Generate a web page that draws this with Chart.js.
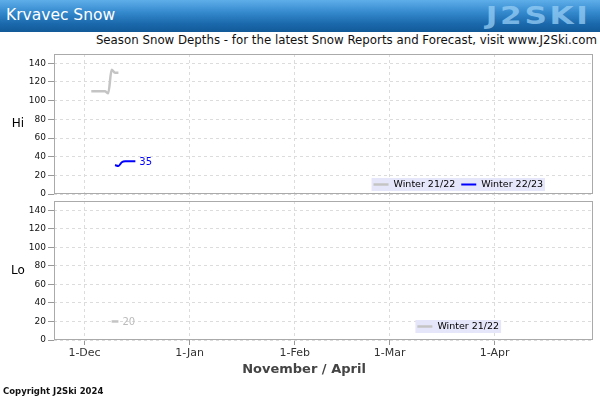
<!DOCTYPE html>
<html>
<head>
<meta charset="utf-8">
<script src="https://cdn.jsdelivr.net/npm/chart.js@4.4.0/dist/chart.umd.min.js"></script>
<style>
    body { margin: 0; width: 600px; height: 400px; background: #fff; position: relative; overflow: hidden; font-family: 'DejaVu Sans', sans-serif; }
    #header { position: absolute; left: 0; top: 0; width: 600px; height: 32px;
        background: linear-gradient(to bottom, #5eaee9 0%, #3388cc 40%, #1a68ab 75%, #125a98 100%); }
    #title { position: absolute; left: 6px; top: 6px; color: #fff; font-size: 15.5px; }
    #logo { position: absolute; right: 10px; top: 2px; color: rgba(150, 205, 245, 0.75); font-size: 24px; font-weight: bold; letter-spacing: 2px;
        transform: scaleX(1.3); transform-origin: right center; }
    #subtitle { position: absolute; right: 3px; top: 33px; font-size: 11.8px; color: #111; white-space: nowrap; }
    #hiWrap { position: absolute; left: 0; top: 50px; width: 600px; height: 150px; }
    #loWrap { position: absolute; left: 0; top: 197px; width: 600px; height: 203px; }
    #copy { position: absolute; left: 3px; top: 386px; font-size: 8.5px; font-weight: bold; color: #111; }
</style>
</head>
<body>
<div id="header"><span id="title">Krvavec Snow</span><span id="logo">J2SKI</span></div>
<div id="subtitle">Season Snow Depths - for the latest Snow Reports and Forecast, visit www.J2Ski.com</div>
<div id="hiWrap"><canvas id="hiChart"></canvas></div>
<div id="loWrap"><canvas id="loChart"></canvas></div>
<div id="copy">Copyright J2Ski 2024</div>
<script>
// days counted from 1-Dec
const monthTicks = [0, 31, 62, 90, 121];
const monthLabels = ['1-Dec', '1-Jan', '1-Feb', '1-Mar', '1-Apr'];
const depthTicks = [0, 20, 40, 60, 80, 100, 120, 140];
const seasons = ['Winter 21/22', 'Winter 22/23'];
const seasonColors = ['#c4c4c4', '#0000ff'];

const hiDays2122 = [2, 3, 4, 5, 6, 7, 8, 9, 10];
const hiDepth2122 = [110, 110, 110, 110, 110, 108, 133, 130, 130];
const hiDays2223 = [9, 10, 11, 12, 13, 14, 15];
const hiDepth2223 = [31, 30, 34, 35, 35, 35, 35];
const loDays2122 = [8, 9, 10];
const loDepth2122 = [20, 20, 20];

Chart.defaults.font.family = "'DejaVu Sans', sans-serif";
Chart.defaults.animation = false;

const toPoints = (days, depths) => days.map((d, i) => ({x: d, y: depths[i]}));

const noPadding = (scale) => {
    scale.paddingTop = 0;
    scale.paddingBottom = 0;
    scale.paddingLeft = 0;
    scale.paddingRight = 0;
};

const decorations = {
    id: 'decorations',
    afterDatasetsDraw(chart, args, opts) {
        const ctx = chart.ctx;
        const a = chart.chartArea;
        ctx.save();
        ctx.strokeStyle = '#aaa';
        ctx.lineWidth = 1;
        ctx.strokeRect(a.left + 0.5, a.top + 0.5, a.width - 1, a.height - 1);

        ctx.fillStyle = '#000';
        ctx.font = "12px 'DejaVu Sans'";
        ctx.textAlign = 'center';
        ctx.textBaseline = 'middle';
        ctx.fillText(opts.side, 18, (a.top + a.bottom) / 2);

        // value at the end of the latest season
        const datasets = chart.data.datasets;
        const lastSet = datasets[datasets.length - 1];
        const meta = chart.getDatasetMeta(datasets.length - 1);
        const pt = meta.data[meta.data.length - 1];
        ctx.fillStyle = opts.endColor;
        ctx.font = "10px 'DejaVu Sans'";
        ctx.textAlign = 'left';
        ctx.fillText(lastSet.data[lastSet.data.length - 1].y, pt.x + 4, pt.y + 1);

        // legend box
        ctx.font = "9.5px 'DejaVu Sans'";
        const lineLen = 15, gap = 5, spacing = 6, pad = 2;
        let width = pad * 2;
        datasets.forEach((ds, i) => {
            width += lineLen + gap + ctx.measureText(ds.label).width + (i < datasets.length - 1 ? spacing : 0);
        });
        const cx = a.left + a.width * 0.75;
        let x = cx - width / 2;
        const top = a.bottom - opts.legendOffset;
        ctx.fillStyle = '#e6e6fa';
        ctx.fillRect(x, top, width, 13);
        x += pad;
        datasets.forEach((ds) => {
            ctx.strokeStyle = ds.borderColor;
            ctx.lineWidth = ds.borderWidth;
            ctx.beginPath();
            ctx.moveTo(x, top + 6.5);
            ctx.lineTo(x + lineLen, top + 6.5);
            ctx.stroke();
            x += lineLen + gap;
            ctx.fillStyle = '#000';
            ctx.fillText(ds.label, x, top + 7);
            x += ctx.measureText(ds.label).width + spacing;
        });

        if (opts.axisTitle) {
            ctx.fillStyle = '#444';
            ctx.font = "bold 13px 'DejaVu Sans'";
            ctx.textAlign = 'center';
            ctx.fillText(opts.axisTitle, 304, a.bottom + 30);
        }
        ctx.restore();
    }
};

function makeOptions(showLabels, side, endColor, legendOffset, axisTitle) {
    return {
        responsive: true,
        maintainAspectRatio: false,
        layout: {padding: {top: 4, right: 7, left: 0, bottom: showLabels ? 40 : 1}},
        elements: {point: {radius: 0}},
        plugins: {
            legend: {display: false},
            tooltip: {enabled: false},
            decorations: {side: side, endColor: endColor, legendOffset: legendOffset, axisTitle: axisTitle}
        },
        scales: {
            x: {
                type: 'linear',
                min: -9,
                max: 150,
                afterBuildTicks: (scale) => { scale.ticks = monthTicks.map(v => ({value: v})); },
                afterFit: (scale) => { scale.height = showLabels ? 20 : 5; noPadding(scale); },
                ticks: {
                    display: showLabels,
                    padding: 2,
                    color: '#333',
                    font: {size: 11},
                    callback: (v) => monthLabels[monthTicks.indexOf(v)]
                },
                grid: {color: '#dcdcdc', tickLength: 5, tickColor: showLabels ? '#999' : '#dcdcdc',
                    tickBorderDash: showLabels ? [] : [2, 2]},
                border: {display: false, dash: [3, 3]}
            },
            y: {
                min: 0,
                max: 150,
                afterBuildTicks: (scale) => { scale.ticks = depthTicks.map(v => ({value: v})); },
                afterFit: (scale) => { scale.width = 54; noPadding(scale); },
                ticks: {padding: 2, color: '#111', font: {size: 9}},
                grid: {color: '#dcdcdc', tickLength: 6, tickColor: '#999', tickBorderDash: []},
                border: {display: false, dash: [3, 3]}
            }
        }
    };
}

new Chart(document.getElementById('hiChart'), {
    type: 'line',
    data: {
        datasets: [{
            label: seasons[0],
            data: toPoints(hiDays2122, hiDepth2122),
            borderColor: seasonColors[0],
            borderWidth: 2.5,
            cubicInterpolationMode: 'monotone'
        }, {
            label: seasons[1],
            data: toPoints(hiDays2223, hiDepth2223),
            borderColor: seasonColors[1],
            borderWidth: 2,
            cubicInterpolationMode: 'monotone'
        }]
    },
    options: makeOptions(false, 'Hi', '#0000ff', 16, null),
    plugins: [decorations]
});

new Chart(document.getElementById('loChart'), {
    type: 'line',
    data: {
        datasets: [{
            label: seasons[0],
            data: toPoints(loDays2122, loDepth2122),
            borderColor: seasonColors[0],
            borderWidth: 2.5,
            cubicInterpolationMode: 'monotone'
        }]
    },
    options: makeOptions(true, 'Lo', '#bbb', 20, 'November / April'),
    plugins: [decorations]
});
</script>
</body>
</html>
